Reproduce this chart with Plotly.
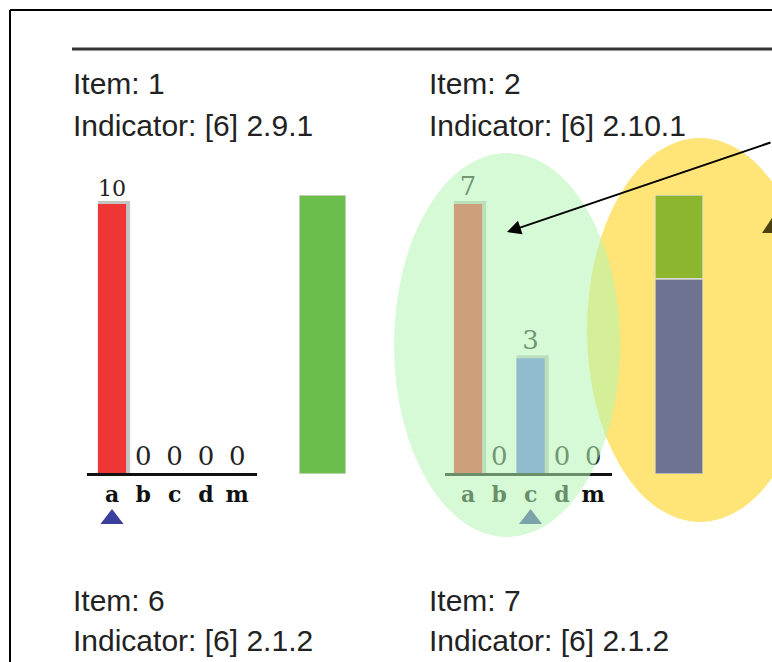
import plotly.graph_objects as go

W, H = 772, 662
OFF = 0  # body margin removed below

# ---------------- data ----------------
categories = ["a", "b", "c", "d", "m"]
item1_counts = [10, 0, 0, 0, 0]
item2_counts = [7, 0, 3, 0, 0]
item1_key = ["a"]
item2_key = ["c"]
summary_labels = ["Item 1", "Item 2"]
summary_green = [10, 3]
summary_blue = [0, 7]
cat_colors = ["#ee3636", "#f0a030", "#6478f0", "#9a60b0", "#888888"]
titles = [
    ("Item: 1", "Indicator: [6] 2.9.1"),
    ("Item: 2", "Indicator: [6] 2.10.1"),
    ("Item: 6", "Indicator: [6] 2.1.2"),
    ("Item: 7", "Indicator: [6] 2.1.2"),
]

# ---------------- helpers ----------------
def px(x):
    return (x - OFF) / W

def py(y):
    return 1 - (y - OFF) / H

BASE = 474          # baseline pixel row
TOPPX = 204         # pixel row reached by the tallest bar
AXTOP = 150
AXBOT = 545
STEP = 31.3

def xdomain(l, r):
    return [px(l), px(r)]

def ydomain(top, bottom):
    return [py(bottom), py(top)]

fig = go.Figure()

def add_count_chart(counts, key, xa, ya, left, right, acenter):
    mx = max(counts)
    ppu = (BASE - TOPPX) / mx
    eps = 3 / ppu
    shadow = [v + eps if v > 0 else 0 for v in counts]
    fig.add_trace(go.Bar(
        x=categories, y=shadow, xaxis=xa, yaxis=ya,
        marker=dict(color="#c4c4c4", line=dict(width=0)),
        width=0.9 + 4 / STEP, offset=-0.45, showlegend=False,
        hoverinfo="skip"))
    fig.add_trace(go.Bar(
        x=categories, y=counts, xaxis=xa, yaxis=ya,
        marker=dict(color=cat_colors, line=dict(width=0)),
        width=0.9, offset=-0.45, showlegend=False,
        text=[str(v) for v in counts], textposition="outside",
        textfont=dict(family="DejaVu Serif", size=26, color="#222222"),
        cliponaxis=False, hoverinfo="skip"))
    fig.add_trace(go.Scatter(
        x=key, y=[-(519 - BASE) / ppu] * len(key), xaxis=xa, yaxis=ya,
        mode="markers", marker=dict(symbol="triangle-up", size=20, color="#3a3f9e"),
        cliponaxis=False, showlegend=False, hoverinfo="skip"))
    n = xa.replace("x", "xaxis")
    m = ya.replace("y", "yaxis")
    fig.layout[n] = dict(
        domain=xdomain(left, right),
        range=[-(acenter - left) / STEP, (right - acenter) / STEP],
        type="category", categoryorder="array", categoryarray=categories,
        showline=True, linecolor="#111111", linewidth=3, showgrid=False,
        zeroline=False, ticks="", anchor="free", position=py(BASE),
        tickfont=dict(family="DejaVu Serif", size=22, color="#111111", weight="bold"))
    fig.layout[m] = dict(
        domain=ydomain(AXTOP, AXBOT),
        range=[-(AXBOT - BASE) / ppu, (BASE - AXTOP) / ppu],
        visible=False, anchor=xa)

def add_summary(idx, xa, ya, left, right):
    total = summary_green[idx] + summary_blue[idx]
    fig.add_trace(go.Bar(
        x=[summary_labels[idx]], y=[summary_blue[idx]], base=[0],
        xaxis=xa, yaxis=ya, width=1, offset=-0.5,
        marker=dict(color="#6e7391", line=dict(color="#d0d0c0", width=1.5)),
        showlegend=False, hoverinfo="skip"))
    fig.add_trace(go.Bar(
        x=[summary_labels[idx]], y=[summary_green[idx]], base=[summary_blue[idx]],
        xaxis=xa, yaxis=ya, width=1, offset=-0.5,
        marker=dict(color="#6cbe4c" if idx == 0 else "#8cb62d",
                    line=dict(color="#d8d8d0", width=1.5)),
        showlegend=False, hoverinfo="skip"))
    n = xa.replace("x", "xaxis")
    m = ya.replace("y", "yaxis")
    fig.layout[n] = dict(domain=xdomain(left, right), range=[-0.5, 0.5],
                         visible=False, anchor=ya)
    fig.layout[m] = dict(domain=ydomain(195, BASE), range=[0, total],
                         visible=False, anchor=xa)

add_count_chart(item1_counts, item1_key, "x", "y", 87, 257, 112)
add_summary(0, "x2", "y2", 299, 346)
add_count_chart(item2_counts, item2_key, "x3", "y3", 445, 612, 468)
add_summary(1, "x4", "y4", 655, 703)

# ---------------- texts ----------------
ann = []
title_pos = [(71, 83, 125), (427, 83, 125), (71, 600, 640), (427, 600, 640)]
for (t1, t2), (x0, y1, y2) in zip(titles, title_pos):
    for t, yy in ((t1, y1), (t2, y2)):
        ann.append(dict(text=t, x=px(x0), y=py(yy), xref="paper", yref="paper",
                        xanchor="left", yanchor="middle", showarrow=False,
                        font=dict(family="Liberation Sans", size=30, color="#222222")))
# arrow
ann.append(dict(text="", x=px(507), y=py(232), xref="paper", yref="paper",
                ax=268, ay=-90, showarrow=True, arrowhead=2, arrowsize=1.4,
                arrowwidth=2, arrowcolor="#000000"))

shapes = [
    dict(type="circle", xref="paper", yref="paper", layer="below",
         x0=px(587), x1=px(813), y0=py(522), y1=py(138),
         fillcolor="rgb(255,228,120)", line=dict(width=0)),
    dict(type="path", xref="paper", yref="paper", layer="above",
         path=f"M {px(762)} {py(233)} L {px(772)} {py(218)} L {px(772)} {py(233)} Z",
         fillcolor="#4a4010", line=dict(width=0)),
    dict(type="circle", xref="paper", yref="paper", layer="above",
         x0=px(394), x1=px(620), y0=py(537), y1=py(153),
         fillcolor="rgb(178,245,178)", opacity=0.55, line=dict(width=0)),
    dict(type="line", xref="paper", yref="paper", x0=px(72), x1=1.0,
         y0=py(49), y1=py(49), line=dict(color="#333333", width=3)),
    dict(type="line", xref="paper", yref="paper", x0=px(10), x1=1.0,
         y0=py(10), y1=py(10), line=dict(color="#000000", width=2)),
    dict(type="line", xref="paper", yref="paper", x0=px(10), x1=px(10),
         y0=py(10), y1=0, line=dict(color="#000000", width=2)),
]

fig.update_layout(
    width=W, height=H, margin=dict(l=0, r=0, t=0, b=0),
    paper_bgcolor="white", plot_bgcolor="rgba(0,0,0,0)",
    barmode="overlay", showlegend=False, hovermode=False,
    annotations=ann, shapes=shapes,
)

fig.write_html(
    "out.html",
    config={"displayModeBar": False},
    post_script="document.body.style.margin='0px';document.body.style.overflow='hidden';",
)
